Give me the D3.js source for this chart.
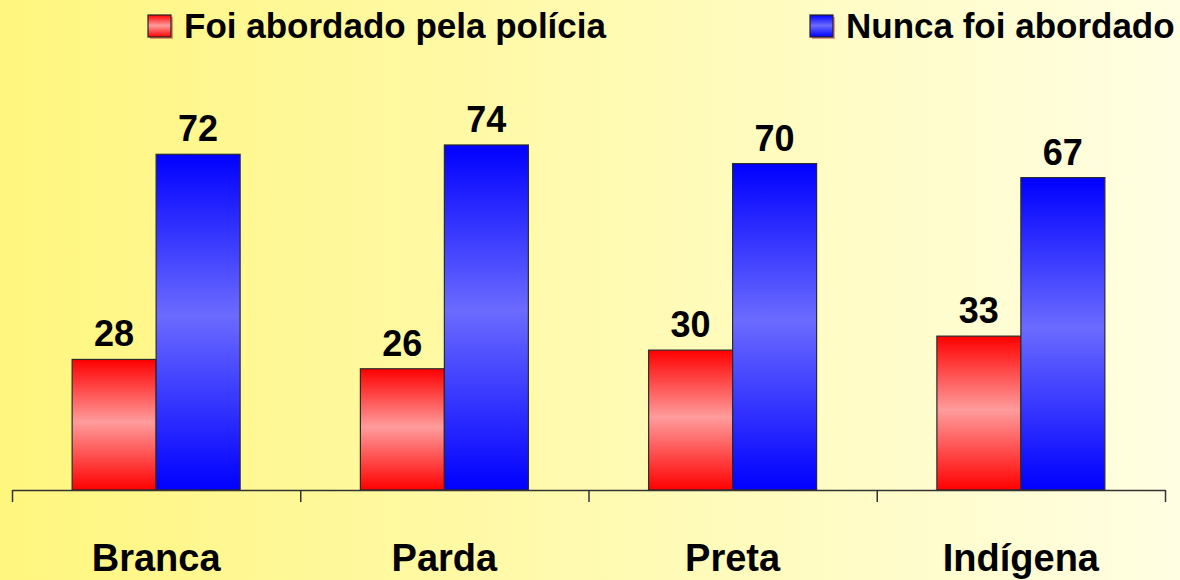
<!DOCTYPE html>
<html>
<head>
<meta charset="utf-8">
<script src="https://cdn.jsdelivr.net/npm/d3@7"></script>
<style>
  body { margin: 0; }
  svg { display: block; }
  text { font-family: "Liberation Sans", Arial, sans-serif; font-weight: bold; fill: #000; }
</style>
</head>
<body>
<script>
// DATA
const categories = ["Branca", "Parda", "Preta", "Indígena"];
const series = ["Foi abordado pela polícia", "Nunca foi abordado"];
const abordado = [28, 26, 30, 33];
const nunca = [72, 74, 70, 67];

const data = categories.map((c, i) => ({ cat: c, values: [abordado[i], nunca[i]] }));

// DIMENSIONS
const width = 1180, height = 580;
const margin = {left: 12, right: 1165, bottom: 490, top: 117};

const svg = d3.select("body").append("svg")
    .attr("width", width)
    .attr("height", height);

// GRADIENTS
const defs = svg.append("defs");
const bg = defs.append("linearGradient").attr("id", "bg")
    .attr("x1", 0).attr("x2", 1).attr("y1", 0).attr("y2", 0);
bg.append("stop").attr("offset", "0%").attr("stop-color", "#fff67e");
bg.append("stop").attr("offset", "100%").attr("stop-color", "#fffee2");

function barGrad(id, end, mid) {
    const g = defs.append("linearGradient").attr("id", id)
        .attr("x1", 0).attr("x2", 0).attr("y1", 0).attr("y2", 1);
    g.append("stop").attr("offset", "0%").attr("stop-color", end);
    g.append("stop").attr("offset", "48%").attr("stop-color", mid);
    g.append("stop").attr("offset", "100%").attr("stop-color", end);
}
barGrad("gRed", "#ff0000", "#ff9c9c");
barGrad("gBlue", "#0000ff", "#6b6bff");
const fills = ["url(#gRed)", "url(#gBlue)"];

svg.append("rect")
    .attr("width", width).attr("height", height)
    .attr("fill", "url(#bg)");

// SCALES
const x0 = d3.scaleBand()
    .domain(categories)
    .range([margin.left, margin.right])
    .padding(0);

const x1 = d3.scaleBand()
    .domain(series)
    .range([0, x0.bandwidth()])
    .paddingInner(0)
    .paddingOuter(0.716);

const y = d3.scaleLinear()
    .domain([0, 80])
    .range([margin.bottom, margin.top]);

// BARS
const groups = svg.selectAll(".grp")
    .data(data)
    .enter().append("g")
    .attr("class", "grp")
    .attr("transform", d => `translate(${x0(d.cat)},0)`);

groups.selectAll("rect")
    .data(d => d.values.map((v, i) => ({ s: series[i], v: v, i: i })))
    .enter().append("rect")
    .attr("x", d => x1(d.s))
    .attr("y", d => y(d.v))
    .attr("width", x1.bandwidth())
    .attr("height", d => margin.bottom - y(d.v))
    .attr("fill", d => fills[d.i])
    .attr("stroke", "#2a2a2a")
    .attr("stroke-width", 1.2);

// VALUE LABELS
groups.selectAll(".val")
    .data(d => d.values.map((v, i) => ({ s: series[i], v: v })))
    .enter().append("text")
    .attr("class", "val")
    .attr("x", d => x1(d.s) + x1.bandwidth() / 2)
    .attr("y", d => y(d.v) - 13)
    .attr("text-anchor", "middle")
    .style("font-size", "36px")
    .text(d => d.v);

// X AXIS WITH TICKS AT CATEGORY BOUNDARIES
const xb = d3.scaleLinear().domain([0, categories.length]).range([margin.left, margin.right]);
svg.append("g")
    .attr("transform", `translate(0,${margin.bottom})`)
    .call(d3.axisBottom(xb)
        .tickValues(d3.range(categories.length + 1))
        .tickFormat("")
        .tickSize(12)
        .tickSizeOuter(0))
    .call(g => g.selectAll("path, line").attr("stroke", "#333").attr("stroke-width", 1.5));

// CATEGORY LABELS
svg.append("g")
    .attr("transform", `translate(0,${margin.bottom})`)
    .call(d3.axisBottom(x0).tickSize(0).tickPadding(54))
    .call(g => g.select(".domain").remove())
    .call(g => g.selectAll("text")
        .attr("fill", "#000")
        .style("font-family", "'Liberation Sans', Arial, sans-serif")
        .style("font-weight", "bold")
        .style("font-size", "38px"));

// LEGEND
const legendX = [148, 810];
const legend = svg.selectAll(".leg")
    .data(series)
    .enter().append("g")
    .attr("class", "leg")
    .attr("transform", (d, i) => `translate(${legendX[i]},15)`);

legend.append("rect")
    .attr("x", 2).attr("y", 2)
    .attr("width", 23).attr("height", 22)
    .attr("fill", "#c84040")
    .attr("opacity", 0.5);

legend.append("rect")
    .attr("width", 23).attr("height", 22)
    .attr("fill", (d, i) => fills[i])
    .attr("stroke", "#222")
    .attr("stroke-width", 1.2);

legend.append("text")
    .attr("x", 36)
    .attr("y", 23)
    .style("font-size", "35px")
    .text(d => d);
</script>
</body>
</html>
